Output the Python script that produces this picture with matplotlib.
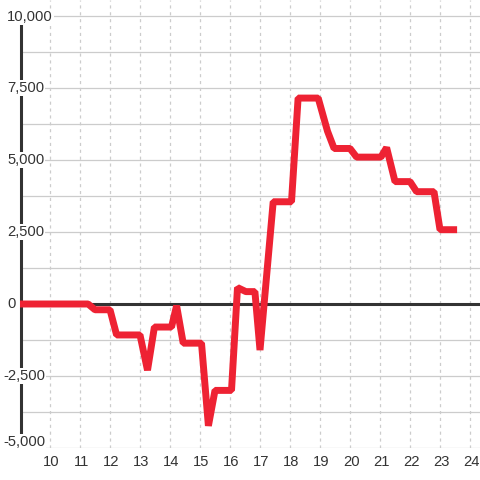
import matplotlib
matplotlib.use("Agg")
import matplotlib.pyplot as plt
import numpy as np

plt.rcParams['font.family'] = ['Liberation Sans', 'DejaVu Sans']

# data (hour of day, value)
hours = [9.0, 11.27, 11.5, 12.0, 12.22, 13.0, 13.25, 13.48, 14.05, 14.22, 14.44,
         15.05, 15.28, 15.5, 16.05, 16.25, 16.53, 16.83, 17.0, 17.44, 18.05, 18.27,
         18.94, 19.25, 19.47, 20.0, 20.22, 21.03, 21.22, 21.5, 22.0, 22.22, 22.8,
         23.0, 23.57]
values = [0, 0, -200, -200, -1075, -1075, -2300, -800, -800, -60, -1360,
          -1360, -4230, -3000, -3000, 570, 430, 430, -1600, 3550, 3550, 7150,
          7150, 6000, 5400, 5400, 5100, 5100, 5430, 4250, 4250, 3900, 3900,
          2580, 2580]
x_ticks = list(range(10, 25))
y_ticks = [-5000, -2500, 0, 2500, 5000, 7500, 10000]
y_tick_labels = ["-5,000", "-2,500", "0", "2,500", "5,000", "7,500", "10,000"]
y_grid = list(range(-5000, 10001, 1250))

W, H = 480, 480
fig = plt.figure(figsize=(W / 100, H / 100), dpi=100, facecolor='white')

# pixel geometry
px_per_unit = 72 / 2500.0
y0_px = 304.0
top_px, bot_px = 0.0, 448.0
left_px, right_px = 20.0, 480.0
ylim_top = (y0_px - top_px) / px_per_unit
ylim_bot = (y0_px - bot_px) / px_per_unit
xlim_left = 9.0
xlim_right = xlim_left + (right_px - left_px) / 30.0

ax = fig.add_axes([left_px / W, 1 - bot_px / H, (right_px - left_px) / W, (bot_px - top_px) / H])
ax.set_xlim(xlim_left, xlim_right)
ax.set_ylim(ylim_bot, ylim_top)
for s in ax.spines.values():
    s.set_visible(False)
ax.set_xticks([])
ax.set_yticks([])
ax.set_facecolor('white')

grid_col = '#cccccc'
for g in y_grid:
    ax.axhline(g, color=grid_col, lw=0.9, zorder=1)
for xt in x_ticks:
    ax.axvline(xt, color=grid_col, lw=0.9, ls=(0, (2.5, 3)), zorder=1)

# zero line
ax.axhline(0, color='#333333', lw=2.2, zorder=2)
# y axis line
ax.plot([9.03, 9.03], [-4720, 9720], color='#333333', lw=2.2, zorder=2, clip_on=False,
        solid_capstyle='butt')

# data line
ax.plot(hours, values, color='#EE2233', lw=5.0, solid_joinstyle='bevel',
        solid_capstyle='butt', zorder=3)

# y tick labels
for v, lab in zip(y_ticks, y_tick_labels):
    ypx = y0_px - v * px_per_unit
    if v == 10000:
        ypx += 1
    if v == -5000:
        ypx -= 6
    xo = 7 if not lab.startswith('-') else 3
    fig.text(xo / W, 1 - ypx / H, lab, ha='left', va='center', fontsize=10.6,
             color='#333333', zorder=5,
             bbox=dict(facecolor='white', edgecolor='none', pad=0.6))

# x tick labels
for xt in x_ticks:
    ax.text(xt + 0.05, ylim_bot - 230, str(xt), ha='center', va='top', fontsize=10.6,
            color='#333333', clip_on=False)

fig.savefig('out.png', dpi=100, facecolor='white')
